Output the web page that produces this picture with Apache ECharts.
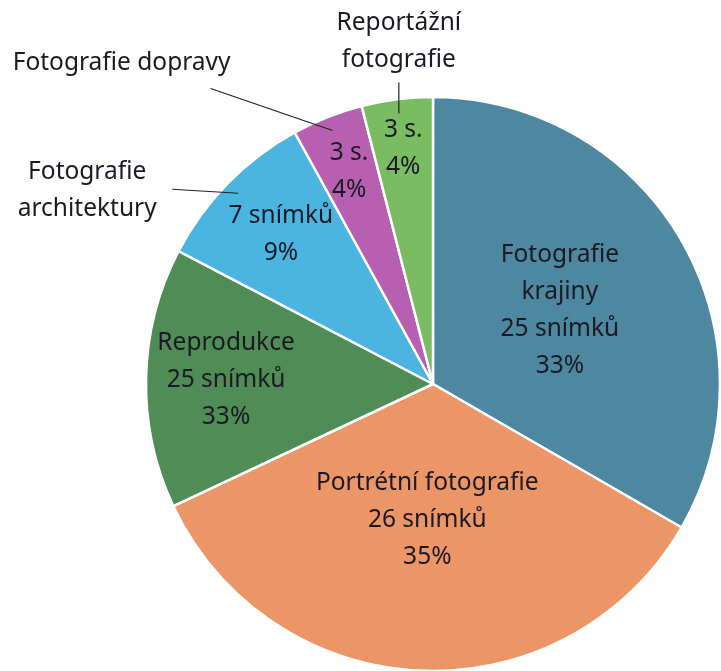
<!DOCTYPE html>
<html>
<head>
<meta charset="utf-8">
<script src="https://cdn.jsdelivr.net/npm/echarts@6/dist/echarts.min.js"></script>
<style>
  html, body { margin: 0; padding: 0; background: #fff; }
  #chart { width: 721px; height: 671px; }
</style>
</head>
<body>
<div id="chart"></div>
<script>
var categories = ['Fotografie krajiny', 'Portrétní fotografie', 'Reprodukce', 'Fotografie architektury', 'Fotografie dopravy', 'Reportážní fotografie'];
// slice sizes as drawn (number of shots)
var values = [25, 26, 11, 7, 3, 3];
var countLabels = ['25 snímků', '26 snímků', '25 snímků', '7 snímků', '3 s.', '3 s.'];
var percentLabels = ['33%', '35%', '33%', '9%', '4%', '4%'];
var nameLines = ['Fotografie\nkrajiny', 'Portrétní fotografie', 'Reprodukce', 'Fotografie\narchitektury', 'Fotografie dopravy', 'Reportážní\nfotografie'];
var colors = ['#4d87a0', '#ec9668', '#508c55', '#4cb4e0', '#b760b2', '#79bc62'];

var dom = document.getElementById('chart');
var myChart = echarts.init(dom);

var R = 287;
var center = [433, 384];
var textStyle = {
    fontFamily: 'Noto Sans',
    fontSize: 24.5,
    lineHeight: 37,
    color: '#1b1a24'
};

// names shown inside the slice for the big ones, outside for the small ones
var nameInside = [true, true, true, false, false, false];

function innerText(i) {
    var parts = [];
    if (nameInside[i]) parts.push(nameLines[i]);
    parts.push(countLabels[i], percentLabels[i]);
    return parts.join('\n');
}

function pieData(showFn, visible) {
    return categories.map(function (name, i) {
        return {
            name: name,
            value: values[i],
            itemStyle: visible ? { color: colors[i] } : { color: 'rgba(0,0,0,0)', borderWidth: 0 },
            label: { show: showFn(i) }
        };
    });
}

// transparent ring whose "inside" label lands at the wanted radius
function labelRing(idx, inner, outer) {
    return {
        type: 'pie',
        center: center,
        radius: [inner, outer || R],
        startAngle: 90,
        silent: true,
        z: 3,
        avoidLabelOverlap: false,
        emphasis: { disabled: true },
        label: Object.assign({
            position: 'inside',
            formatter: function (p) { return innerText(p.dataIndex); }
        }, textStyle),
        labelLine: { show: false },
        labelLayout: { hideOverlap: false },
        data: pieData(function (i) { return i === idx; }, false)
    };
}

// leader vectors and label offsets for the outside names
var leader = { 3: [-66, -4], 4: [-122, -42], 5: [0, -31] };
var nameOffset = { 3: [-85, 1], 4: [-89, -25], 5: [0, -41] };

option = {
    animation: false,
    backgroundColor: '#fff',
    series: [
        {
            name: 'Snímky',
            type: 'pie',
            center: center,
            radius: [0, R],
            startAngle: 90,
            clockwise: true,
            avoidLabelOverlap: false,
            emphasis: { disabled: true },
            itemStyle: { borderColor: '#fff', borderWidth: 2.5 },
            label: Object.assign({
                position: 'inside',
                formatter: function (p) { return innerText(p.dataIndex); }
            }, textStyle),
            labelLine: { show: false },
            labelLayout: { hideOverlap: false },
            data: pieData(function (i) { return i === 0; }, true)
        },
        labelRing(1, 0, 266),
        labelRing(2, 121),
        labelRing(3, 133),
        labelRing(4, 163),
        labelRing(5, 181),
        {
            name: 'Názvy',
            type: 'pie',
            center: center,
            radius: [0, R * 0.95],
            startAngle: 90,
            silent: true,
            z: 4,
            avoidLabelOverlap: false,
            emphasis: { disabled: true },
            label: Object.assign({
                position: 'outside',
                formatter: function (p) { return nameLines[p.dataIndex]; }
            }, textStyle),
            labelLine: {
                show: true,
                length: 20,
                length2: 10,
                lineStyle: { color: '#222', width: 1.2 }
            },
            labelLayout: function (p) {
                var pts = p.labelLinePoints;
                var v = leader[p.dataIndex];
                if (!pts || !v) return { hideOverlap: false };
                var s = pts[0];
                var e = [s[0] + v[0], s[1] + v[1]];
                var o = nameOffset[p.dataIndex];
                return {
                    x: e[0] + o[0],
                    y: e[1] + o[1],
                    align: 'center',
                    verticalAlign: 'middle',
                    hideOverlap: false,
                    labelLinePoints: [s, e, e]
                };
            },
            data: pieData(function (i) { return !nameInside[i]; }, false)
        }
    ]
};

if (option && typeof option === 'object') {
    myChart.setOption(option, true);
}
</script>
</body>
</html>
